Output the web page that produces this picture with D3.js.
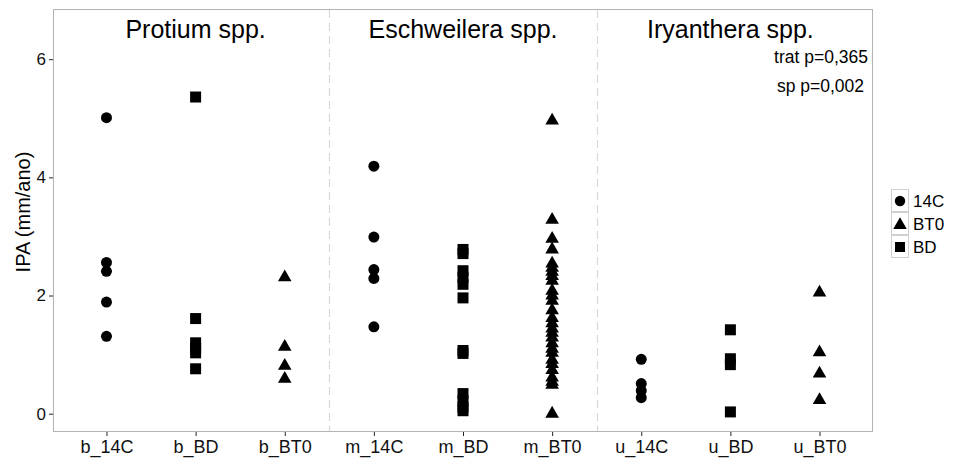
<!DOCTYPE html>
<html><head><meta charset="utf-8">
<script src="https://cdn.jsdelivr.net/npm/d3@7"></script>
<style>body{margin:0;background:#fff;}svg{display:block;font-family:"Liberation Sans",Arial,sans-serif;}</style>
</head><body>
<svg id="chart" width="954" height="460"></svg>
<script>
const categories = ["b_14C","b_BD","b_BT0","m_14C","m_BD","m_BT0","u_14C","u_BD","u_BT0"];
const treatmentOf = ["14C","BD","BT0","14C","BD","BT0","14C","BD","BT0"];
const facets = ["Protium spp.","Eschweilera spp.","Iryanthera spp."];
const legendLabels = ["14C","BT0","BD"];
const yTicks = [0,2,4,6];
const annotations = ["trat p=0,365","sp p=0,002"];

const b_14C = [5.01, 2.56, 2.41, 1.89, 1.31];
const b_BD  = [5.36, 1.61, 1.20, 1.11, 1.03, 0.76];
const b_BT0 = [2.33, 1.15, 0.83, 0.61];
const m_14C = [4.19, 2.99, 2.44, 2.29, 1.47];
const m_BD  = [2.78, 2.71, 2.42, 2.31, 2.19, 1.96, 1.07, 1.02, 0.34, 0.22, 0.11, 0.05];
const m_BT0 = [4.98, 3.30, 2.98, 2.80, 2.56, 2.49, 2.42, 2.35, 2.27, 2.10, 2.02, 1.93, 1.77,
               1.64, 1.55, 1.46, 1.39, 1.31, 1.21, 1.12, 1.05, 0.93, 0.86, 0.76, 0.63, 0.56, 0.51, 0.02];
const u_14C = [0.92, 0.51, 0.39, 0.27];
const u_BD  = [1.42, 0.93, 0.83, 0.03];
const u_BT0 = [2.07, 1.06, 0.70, 0.25];
const seriesValues = [b_14C,b_BD,b_BT0,m_14C,m_BD,m_BT0,u_14C,u_BD,u_BT0];

const svg = d3.select("#chart");
const P = {left:53, right:873, top:9, bottom:432};

const x = d3.scalePoint().domain(categories).range([P.left, P.right]).padding(0.6);
const y = d3.scaleLinear().domain([-0.31, 6.85]).range([P.bottom, P.top]);

const shapeOf = {"14C": d3.symbolCircle, "BT0": d3.symbolTriangle, "BD": d3.symbolSquare};
const sizeOf = {"14C": 95, "BT0": 80, "BD": 121};

// panel
svg.append("rect").attr("x",P.left+0.5).attr("y",P.top+0.5)
  .attr("width",P.right-P.left-1).attr("height",P.bottom-P.top-1)
  .attr("fill","#fff").attr("stroke","#b3b3b3").attr("stroke-width",1);

// facet separators
const step = x.step();
[2,5].forEach(i=>{
  const sx = Math.round(x(categories[i]) + step/2) + 0.5;
  svg.append("line").attr("x1",sx).attr("x2",sx).attr("y1",P.top+1).attr("y2",P.bottom-1)
    .attr("stroke","#d9d9d9").attr("stroke-width",1.2).attr("stroke-dasharray","8,5");
});

// facet titles
facets.forEach((f,i)=>{
  svg.append("text").attr("x", x(categories[i*3+1])).attr("y", 38)
    .attr("text-anchor","middle").attr("font-size",25).attr("fill","#000").text(f);
});

// annotations
annotations.forEach((t,i)=>{
  svg.append("text").attr("x", i===0?868:864).attr("y", i===0?63:92)
    .attr("text-anchor","end").attr("font-size",17.5).attr("fill","#000").text(t);
});

// axes
const yAxis = d3.axisLeft(y).tickValues(yTicks).tickSize(4).tickPadding(3).tickFormat(d3.format("d"));
const gy = svg.append("g").attr("transform",`translate(${P.left},0)`).call(yAxis);
gy.select(".domain").remove();
gy.selectAll(".tick line").attr("stroke","#222");
gy.selectAll("text").attr("font-size",17).attr("fill","#111").attr("font-family","Liberation Sans, Arial, sans-serif");

const xAxis = d3.axisBottom(x).tickSize(4).tickPadding(4);
const gx = svg.append("g").attr("transform",`translate(0,${P.bottom})`).call(xAxis);
gx.select(".domain").remove();
gx.selectAll(".tick line").attr("stroke","#222");
gx.selectAll("text").attr("font-size",18).attr("fill","#111").attr("font-family","Liberation Sans, Arial, sans-serif");

// y title
svg.append("text").attr("transform",`translate(30,212) rotate(-90)`)
  .attr("text-anchor","middle").attr("font-size",20).attr("fill","#000").text("IPA (mm/ano)");

// points
const pts = svg.append("g");
categories.forEach((c,i)=>{
  const t = treatmentOf[i];
  const sym = d3.symbol().type(shapeOf[t]).size(sizeOf[t]);
  pts.selectAll(null).data(seriesValues[i]).enter().append("path")
    .attr("d", sym)
    .attr("transform", d=>`translate(${x(c)},${y(d) + (t==="BT0"?1.2:0)})`)
    .attr("fill","#000");
});

// legend
const lg = svg.append("g").attr("transform","translate(891,189)");
legendLabels.forEach((l,i)=>{
  const g = lg.append("g").attr("transform",`translate(0,${i*23})`);
  g.append("rect").attr("x",0.5).attr("y",0.5).attr("width",17).attr("height",22)
    .attr("fill","#fff").attr("stroke","#d0d0d0");
  g.append("path").attr("d", d3.symbol().type(shapeOf[l]).size(l==="BD"?100:(l==="BT0"?80:85))())
    .attr("transform",`translate(9,${12 + (l==="BT0"?1:0)})`).attr("fill","#000");
  g.append("text").attr("x",22).attr("y",17.5).attr("font-size",17).attr("fill","#000").text(l);
});
</script>
</body></html>
